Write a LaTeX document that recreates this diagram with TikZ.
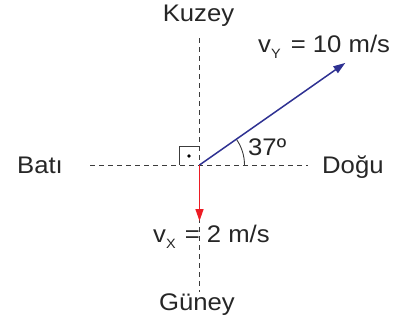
\documentclass[tikz,border=0pt]{standalone}
\usepackage{fontspec}
\setmainfont{Liberation Sans}[FakeStretch=1.07]
\usetikzlibrary{arrows.meta,calc}
\definecolor{vblue}{RGB}{46,49,146}
\definecolor{vred}{RGB}{237,28,36}
\definecolor{axisgray}{RGB}{60,60,60}
\newcommand{\subY}[1]{{\fontsize{13.5}{13.5}\selectfont\raisebox{-6pt}{#1}}}
\begin{document}
\begin{tikzpicture}[x=1pt,y=1pt,
  axisline/.style={draw=axisgray,line width=0.9pt,dash pattern=on 5pt off 4pt},
  lbl/.style={inner sep=0pt,font=\fontsize{24}{28}\selectfont,text=black!85},
  vec/.style={line width=1.5pt,-{Triangle[length=12pt,width=8pt]}}]
\useasboundingbox (0,0) rectangle (401,-322);
\coordinate (O) at (199.5,-165);
\coordinate (N) at (199.5,-38);
\coordinate (S) at (199.5,-292);
\coordinate (W) at (90,-165);
\coordinate (E) at (308,-165);
\coordinate (B) at ($(O)+(35:178)$);
\coordinate (R) at (199.5,-221);
\coordinate (A0) at (244.5,-165);
\coordinate (Q1) at (179,-165);
\coordinate (Q2) at (179,-146);
\coordinate (Q3) at (199.5,-146);
\draw[axisline] (N) -- (S);
\draw[axisline] (W) -- (E);
\draw[line width=0.9pt,draw=axisgray] (Q1) -- (Q2) -- (Q3);
\fill[black] (189,-156) circle (1.9);
\draw[line width=0.9pt,draw=axisgray] (A0) arc[start angle=0,end angle=35,radius=45];
\draw[vec,vblue] (O) -- (B);
\draw[vec,vred] (O) -- (R);
\node[lbl,anchor=base] (kuzey) at (198.5,-21) {Kuzey};
\node[lbl,anchor=base] (guney) at (197,-310) {Güney};
\node[lbl,anchor=base west] (bati) at (17,-173) {Batı};
\node[lbl,anchor=base west] (dogu) at (322,-173) {Doğu};
\node[lbl,anchor=base west] (vy) at (258,-52) {v\subY{Y}\hspace{3pt} = 10 m/s};
\node[lbl,anchor=base west] (ang) at (248,-155) {37º};
\node[lbl,anchor=base west] (vx) at (153,-242) {v\subY{X}\hspace{2pt} = 2 m/s};
\end{tikzpicture}
\end{document}
